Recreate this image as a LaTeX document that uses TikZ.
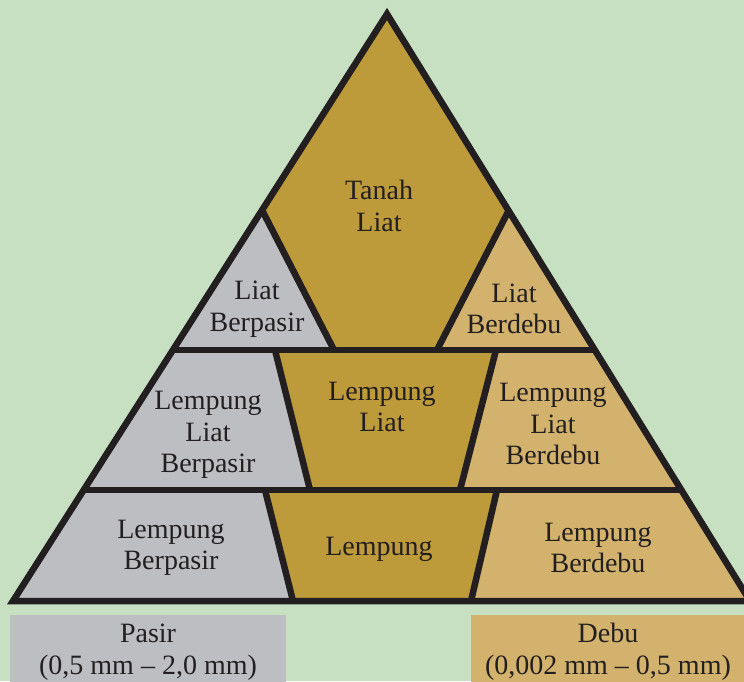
\documentclass[tikz,border=0pt]{standalone}
\usepackage{fontspec}
\setmainfont{Liberation Serif}
\definecolor{bg}{HTML}{C6E0C1}
\definecolor{gold}{HTML}{BD9A3A}
\definecolor{tan}{HTML}{D2B26C}
\definecolor{greyc}{HTML}{BDBEC2}
\definecolor{ink}{HTML}{231F20}
\begin{document}
\begin{tikzpicture}[x=1pt,y=-1pt,
  edge/.style={draw=ink,line width=6.5pt,line join=miter,line cap=butt},
  lbl/.style={text=ink,align=center,inner sep=0pt,font=\fontsize{28}{31.5}\selectfont}]
\useasboundingbox (0,0) rectangle (744,681);
\clip (0,0) rectangle (744,681);
\fill[bg] (0,0) rectangle (744,681);
% key points
\coordinate (A) at (387,14);
\coordinate (BL) at (13,601);
\coordinate (BR) at (750,601);
\coordinate (HL) at (262,210);
\coordinate (HR) at (509,210);
\coordinate (L1) at (173,350);
\coordinate (R1) at (596,350);
\coordinate (L2) at (84,490);
\coordinate (R2) at (682,490);
\coordinate (HBL) at (334,350);
\coordinate (HBR) at (437,350);
\coordinate (M1L) at (275,350);
\coordinate (M1R) at (496,350);
\coordinate (M2L) at (310,490);
\coordinate (M2R) at (460,490);
\coordinate (N1L) at (265,490);
\coordinate (N1R) at (497,490);
\coordinate (N2L) at (293,601);
\coordinate (N2R) at (471,601);
% fills
\fill[gold] (A) -- (HL) -- (HBL) -- (HBR) -- (HR) -- cycle;
\fill[greyc] (HL) -- (L1) -- (HBL) -- cycle;
\fill[tan] (HR) -- (HBR) -- (R1) -- cycle;
\fill[greyc] (L1) -- (M1L) -- (M2L) -- (L2) -- cycle;
\fill[gold] (M1L) -- (M1R) -- (M2R) -- (M2L) -- cycle;
\fill[tan] (M1R) -- (R1) -- (R2) -- (M2R) -- cycle;
\fill[greyc] (L2) -- (N1L) -- (N2L) -- (BL) -- cycle;
\fill[gold] (N1L) -- (N1R) -- (N2R) -- (N2L) -- cycle;
\fill[tan] (N1R) -- (R2) -- (BR) -- (N2R) -- cycle;
% lines
\draw[edge] (L1) -- (R1);
\draw[edge] (L2) -- (R2);
\draw[edge] (HL) -- (HBL);
\draw[edge] (HR) -- (HBR);
\draw[edge] (M1L) -- (M2L);
\draw[edge] (M1R) -- (M2R);
\draw[edge] (N1L) -- (N2L);
\draw[edge] (N1R) -- (N2R);
\draw[edge] (A) -- (BL) -- (BR) -- cycle;
% labels
\node[lbl] (tl) at (379,206) {Tanah\\Liat};
\node[lbl] (lb) at (257,309) {Liat\\Berpasir};
\node[lbl] (ld) at (514,309) {Liat\\Berdebu};
\node[lbl] (llb) at (208,435) {Lempung\\Liat\\Berpasir};
\node[lbl] (ll) at (382,407) {Lempung\\Liat};
\node[lbl] (lld) at (553,424) {Lempung\\Liat\\Berdebu};
\node[lbl] (lpb) at (171,548) {Lempung\\Berpasir};
\node[lbl] (lp) at (379,549) {Lempung};
\node[lbl] (lpd) at (598,548) {Lempung\\Berdebu};
% key boxes
\fill[greyc] (10,615) rectangle (286,690);
\fill[tan] (471,615) rectangle (760,690);
\node[lbl] (pasir) at (148,652) {Pasir\\(0,5 mm – 2,0 mm)};
\node[lbl] (debu) at (608,652) {Debu\\(0,002 mm – 0,5 mm)};
\end{tikzpicture}
\end{document}
